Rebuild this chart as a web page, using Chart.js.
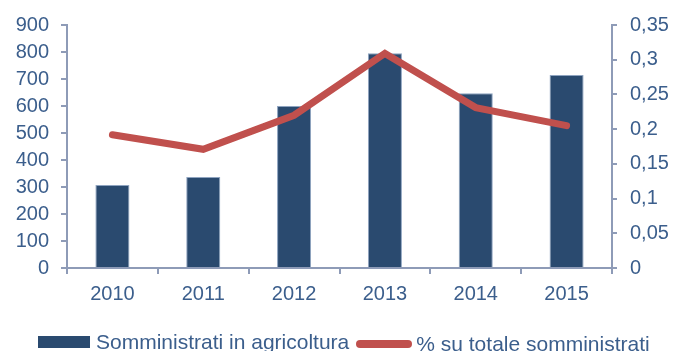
<!DOCTYPE html>
<html>
<head>
<meta charset="utf-8">
<script src="https://cdn.jsdelivr.net/npm/chart.js@4"></script>
<style>
  html, body { margin: 0; padding: 0; background: #fff; }
  #wrap { position: relative; width: 673px; height: 351px; overflow: hidden; }
  #legend {
    position: absolute; left: 38px; top: 329px;
    white-space: nowrap; font: 21px "Liberation Sans", Arial, sans-serif; color: #3b5e8c;
  }
  #legend span.item { display: inline-flex; align-items: center; }
  #legend .sw { display: inline-block; }
</style>
</head>
<body>
<div id="wrap">
  <canvas id="chart" width="673" height="351"></canvas>
  <div id="legend"></div>
</div>
<script>
const years = ['2010', '2011', '2012', '2013', '2014', '2015'];
const somministrati = [307, 337, 600, 795, 647, 715];
const quotaTotale = [0.192, 0.171, 0.22, 0.309, 0.231, 0.205];

const textColor = '#3b5e8c';
const axisColor = '#8e9bb7';
const barColor = '#2a4a6f';
const lineColor = '#c0504d';
const font = { family: '"Liberation Sans", Arial, sans-serif', size: 20 };

Chart.defaults.color = textColor;
Chart.defaults.font = font;

const ctx = document.getElementById('chart').getContext('2d');
const chart = new Chart(ctx, {
  type: 'bar',
  data: {
    labels: years,
    datasets: [
      {
        type: 'line',
        label: '% su totale somministrati',
        data: quotaTotale,
        yAxisID: 'y1',
        borderColor: lineColor,
        backgroundColor: lineColor,
        borderWidth: 7,
        borderCapStyle: 'round',
        pointRadius: 0,
        tension: 0,
        order: 0
      },
      {
        label: 'Somministrati in agricoltura',
        data: somministrati,
        yAxisID: 'y',
        backgroundColor: barColor,
        borderColor: '#8fa4c0',
        borderWidth: 1,
        categoryPercentage: 1,
        barPercentage: 0.375,
        order: 1
      }
    ]
  },
  options: {
    responsive: false,
    animation: false,
    layout: { padding: { top: 22, bottom: 0, left: 0, right: 0 } },
    plugins: { legend: { display: false }, tooltip: { enabled: false } },
    scales: {
      x: {
        grid: { display: true, drawOnChartArea: false, offset: true, color: axisColor, tickLength: 6, lineWidth: 2 },
        border: { color: axisColor, width: 2 },
        ticks: { padding: 8, color: textColor },
        afterFit: s => { s.height = 83; }
      },
      y: {
        position: 'left',
        min: 0, max: 900,
        ticks: { stepSize: 100, padding: 12, color: textColor },
        grid: { drawOnChartArea: false, color: axisColor, tickLength: 6, lineWidth: 2 },
        border: { color: axisColor, width: 2 },
        afterFit: s => { s.width = 67; }
      },
      y1: {
        position: 'right',
        min: 0, max: 0.35,
        ticks: {
          stepSize: 0.05, padding: 13, color: textColor,
          callback: v => String(Number(v.toFixed(2))).replace('.', ',')
        },
        grid: { drawOnChartArea: false, color: axisColor, tickLength: 5, lineWidth: 2 },
        border: { color: axisColor, width: 2 },
        afterFit: s => { s.width = 61; }
      }
    }
  }
});

// legend built from the datasets, bars first
const legend = document.getElementById('legend');
[chart.data.datasets[1], chart.data.datasets[0]].forEach((ds, i) => {
  const item = document.createElement('span');
  item.className = 'item';
  const sw = document.createElement('span');
  sw.className = 'sw';
  if (ds.type === 'line') {
    sw.style.width = '56px';
    sw.style.height = '8px';
    sw.style.borderRadius = '4px';
    sw.style.marginRight = '4px';
    sw.style.background = ds.borderColor;
  } else {
    sw.style.width = '52px';
    sw.style.height = '12px';
    sw.style.marginRight = '6px';
    sw.style.background = ds.backgroundColor;
  }
  item.appendChild(sw);
  item.appendChild(document.createTextNode(ds.label));
  if (i === 0) item.style.marginRight = '7px';
  legend.appendChild(item);
});
</script>
</body>
</html>
